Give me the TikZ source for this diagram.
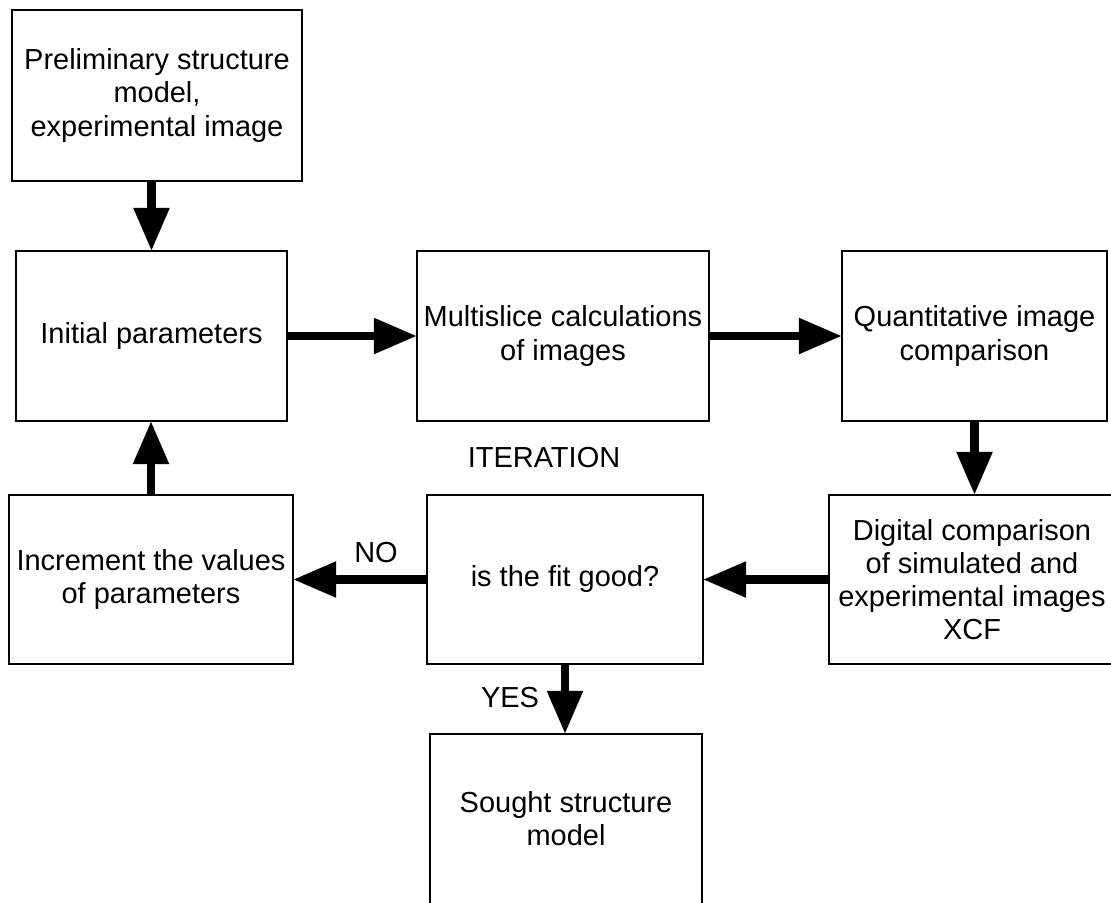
\documentclass[tikz,border=0pt]{standalone}
\usepackage{fontspec}
\setmainfont{Liberation Sans}
\usetikzlibrary{arrows.meta,positioning,calc}

\begin{document}
\begin{tikzpicture}[x=0.025cm, y=-0.025cm,
      >={Triangle[width=26pt,length=30pt,line width=0pt]},
      blk/.style={rectangle,draw=black,line width=1.2pt,align=center,inner sep=0pt,
        font=\fontsize{20.6}{23.6}\selectfont},
      lbl/.style={inner sep=0pt,font=\fontsize{20.6}{23.6}\selectfont},
      flow/.style={line width=5.9pt,->}]
      \useasboundingbox (0,0) rectangle (1111,902);
      \node[blk, minimum width=7.25cm, minimum height=4.275cm]  at (157,95.5)  (prelim) {Preliminary structure\\model,\\experimental image};
      \node[blk, minimum width=6.775cm, minimum height=4.25cm]  at (151.5,336) (init) {Initial parameters};
      \node[blk, minimum width=7.3cm, minimum height=4.25cm]    at (563,336)   (multi) {Multislice calculations\\of images};
      \node[blk, minimum width=6.625cm, minimum height=4.25cm]  at (974.5,336) (quant) {Quantitative image\\comparison};
      \node[blk, minimum width=7.1cm, minimum height=4.225cm]   at (151,579.5) (incr) {Increment the values\\of parameters};
      \node[blk, minimum width=6.9cm, minimum height=4.225cm]   at (565,579.5) (fit) {is the fit good?};
      \node[blk, minimum width=7.15cm, minimum height=4.225cm]  at (972,579.5) (digit) {Digital comparison\\of simulated and\\experimental images\\XCF};
      \node[blk, minimum width=6.8cm, minimum height=4.25cm]    at (566,819)   (sought) {Sought structure\\model};
      \node[lbl] at (544,458) (iter) {ITERATION};
      \node[lbl] at (376,553) (no) {NO};
      \node[lbl] at (510,698) (yes) {YES};
      \draw[flow] (prelim.south -| init.north) -- (init.north);
      \draw[flow] (init) -- (multi);
      \draw[flow] (multi) -- (quant);
      \draw[flow] (quant.south) -- (quant.south |- digit.north);
      \draw[flow] (digit) -- (fit);
      \draw[flow] (fit) -- (incr);
      \draw[flow] (incr.north) -- (incr.north |- init.south);
      \draw[flow] (fit.south) -- (fit.south |- sought.north);
    \end{tikzpicture}
\end{document}
